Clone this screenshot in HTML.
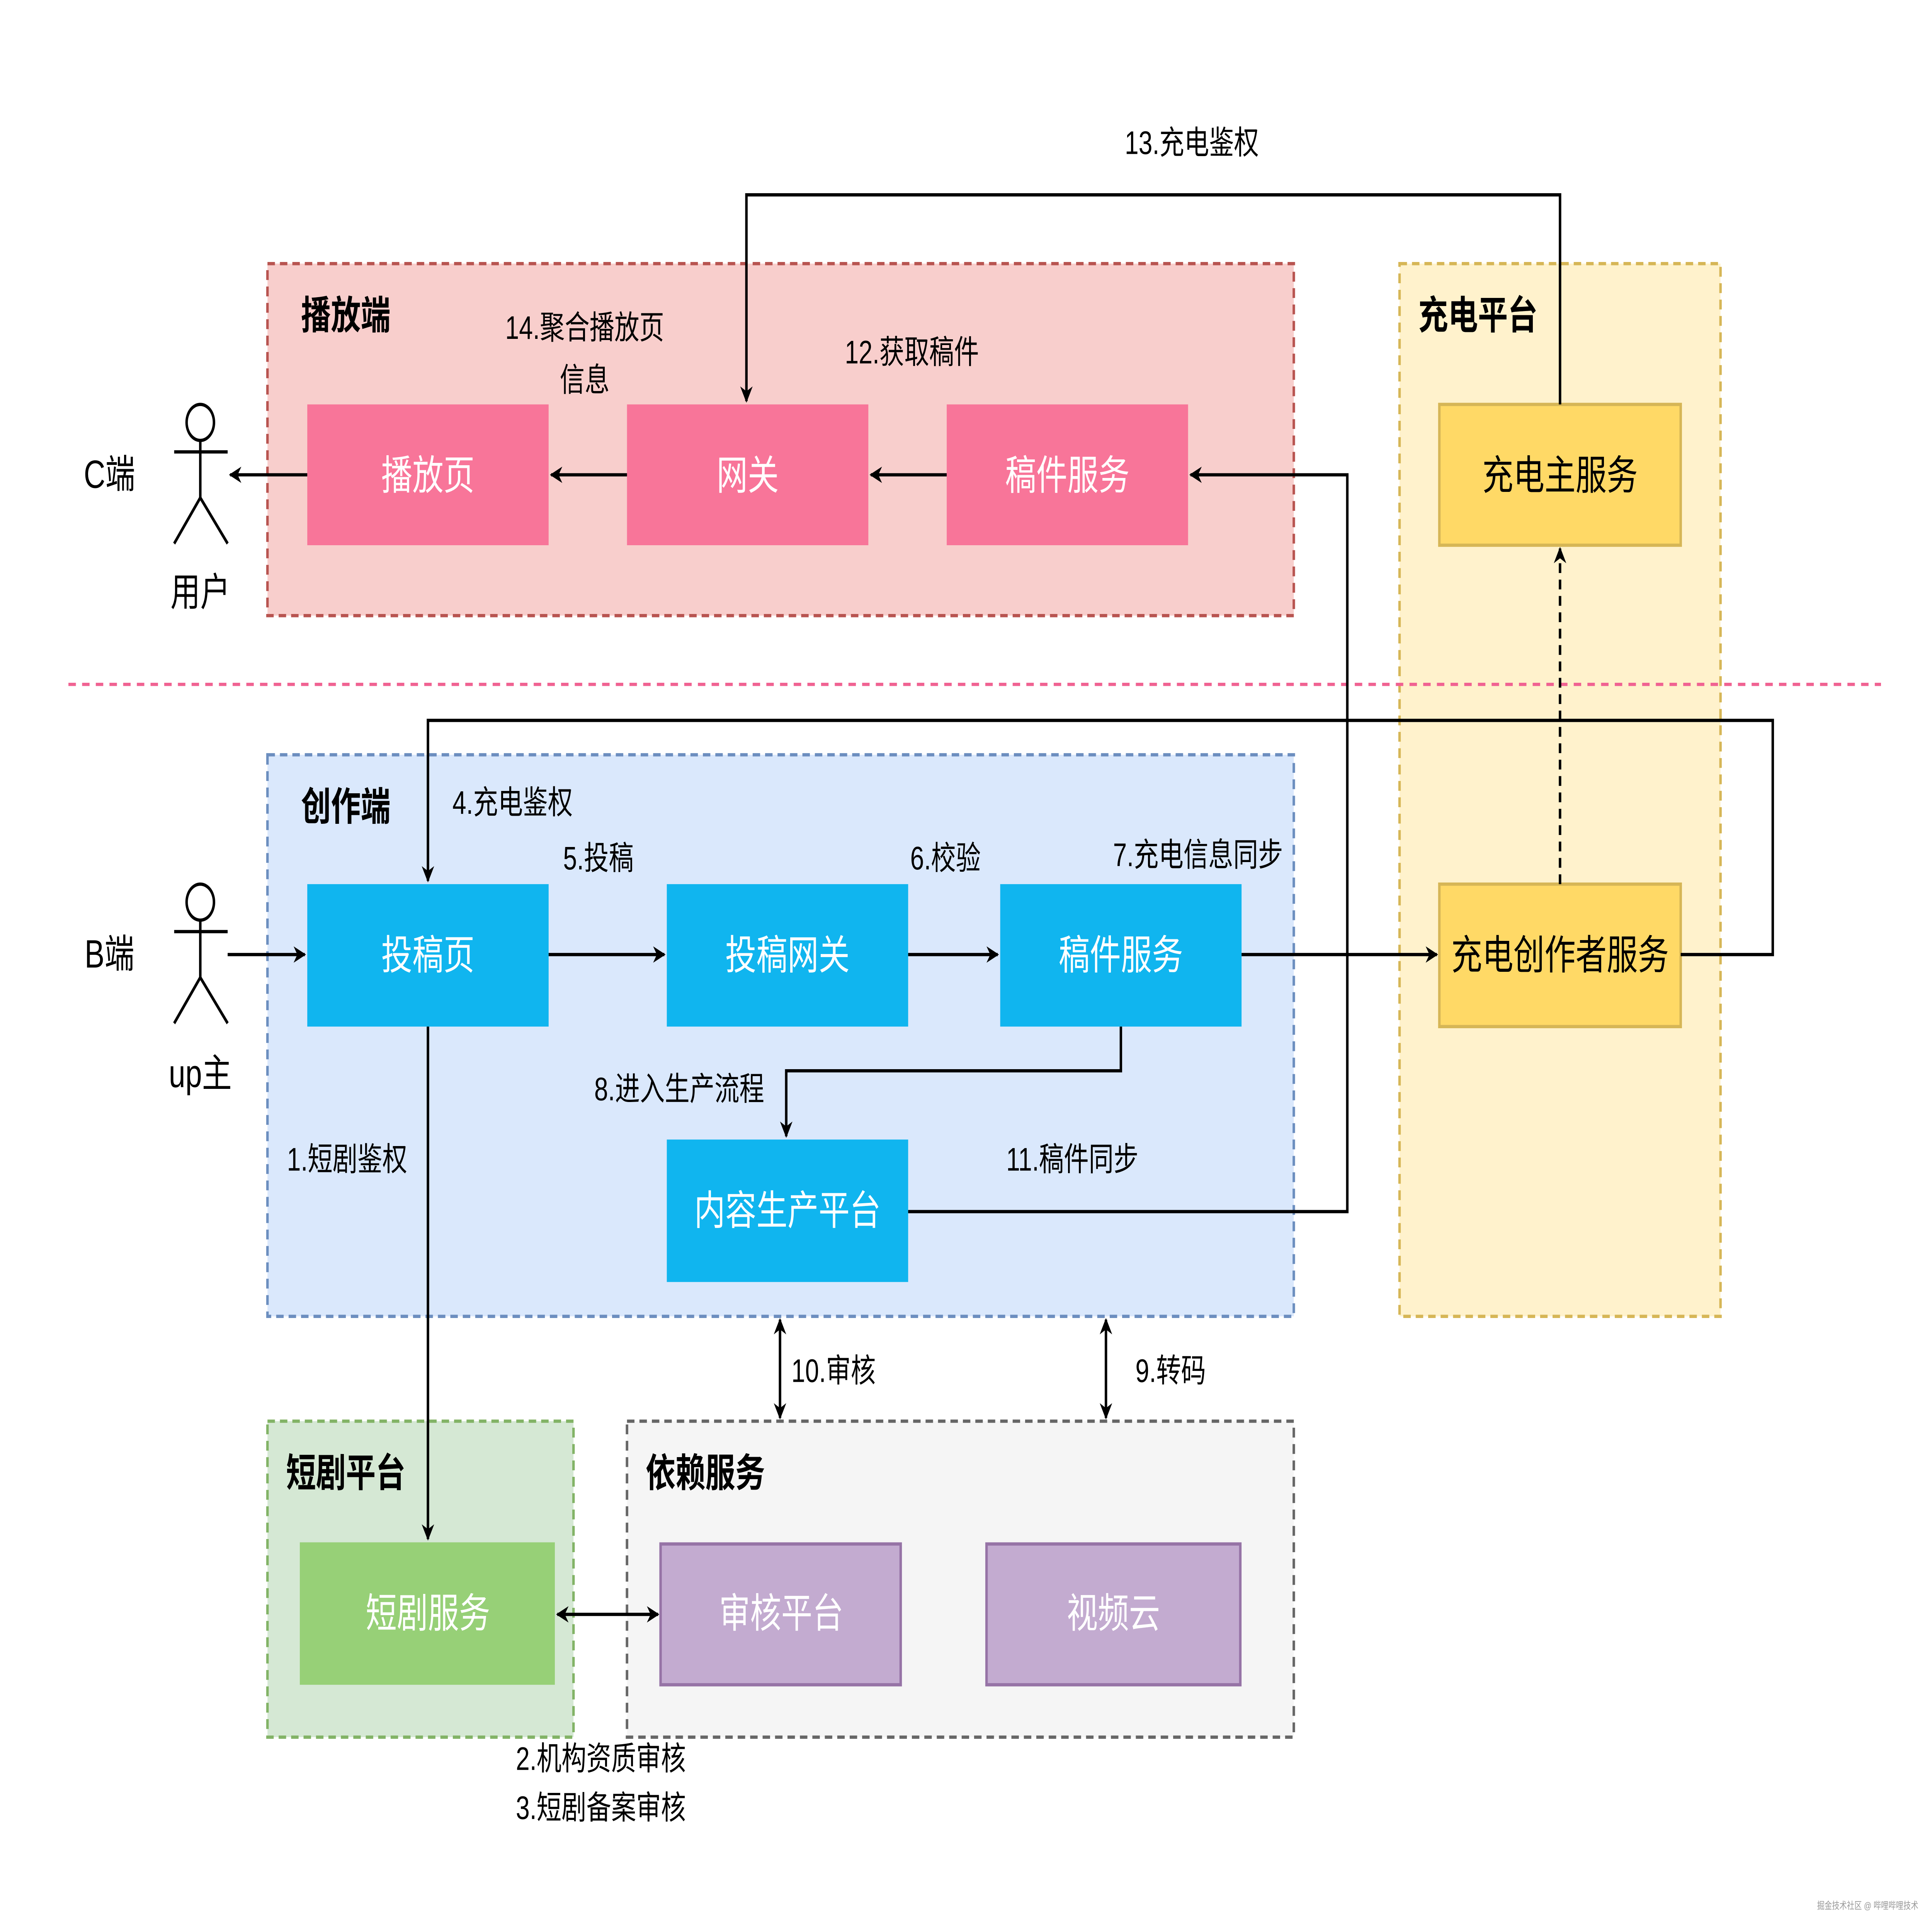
<!DOCTYPE html>
<html><head><meta charset="utf-8"><style>
html,body{margin:0;padding:0;background:#fff;overflow:hidden;width:100vw;height:100vh;}
svg{display:block;width:100vw;height:100vh;}
text{font-family:"Liberation Sans","Noto Sans CJK SC",sans-serif;}
</style></head><body>
<svg viewBox="0 0 1553 1180" preserveAspectRatio="none" xmlns="http://www.w3.org/2000/svg">
<defs>
<marker id="a" markerWidth="10" markerHeight="10" refX="9" refY="5" orient="auto-start-reverse" markerUnits="userSpaceOnUse"><path d="M0,0 L10,5 L0,10 L3,5 Z" fill="#000"/></marker>
</defs>
<rect width="1553" height="1180" fill="#fff"/>
<rect x="215" y="161" width="825" height="215" fill="#f8cecc" stroke="#b85450" stroke-width="2" stroke-dasharray="6,4"/>
<rect x="1125" y="161" width="258" height="643" fill="#fff2cc" stroke="#d6b656" stroke-width="2" stroke-dasharray="6,4"/>
<rect x="215" y="461" width="825" height="343" fill="#dae8fc" stroke="#6c8ebf" stroke-width="2" stroke-dasharray="6,4"/>
<rect x="215" y="868" width="246" height="193" fill="#d5e8d4" stroke="#82b366" stroke-width="2" stroke-dasharray="6,4"/>
<rect x="504" y="868" width="536" height="193" fill="#f5f5f5" stroke="#666" stroke-width="2" stroke-dasharray="6,4"/>
<line x1="55" y1="418" x2="1512" y2="418" stroke="#f06292" stroke-width="2" stroke-dasharray="6,5"/>
<g font-size="24" font-weight="bold" fill="#000" text-anchor="middle">
<text x="278" y="201">播放端</text><text x="1188" y="201">充电平台</text>
<text x="278" y="501">创作端</text><text x="278" y="908">短剧平台</text><text x="567" y="908">依赖服务</text>
</g>
<g font-size="25" text-anchor="middle">
<rect x="247" y="247" width="194" height="86" fill="#f87599"/><text x="344" y="299" fill="#fff">播放页</text>
<rect x="504" y="247" width="194" height="86" fill="#f87599"/><text x="601" y="299" fill="#fff">网关</text>
<rect x="761" y="247" width="194" height="86" fill="#f87599"/><text x="858" y="299" fill="#fff">稿件服务</text>
<rect x="1157" y="247" width="194" height="86" fill="#ffd966" stroke="#d6b656" stroke-width="2"/><text x="1254" y="299" fill="#000">充电主服务</text>
<rect x="1157" y="540" width="194" height="87" fill="#ffd966" stroke="#d6b656" stroke-width="2"/><text x="1254" y="592" fill="#000">充电创作者服务</text>
<rect x="247" y="540" width="194" height="87" fill="#10b5ef"/><text x="344" y="592" fill="#fff">投稿页</text>
<rect x="536" y="540" width="194" height="87" fill="#10b5ef"/><text x="633" y="592" fill="#fff">投稿网关</text>
<rect x="804" y="540" width="194" height="87" fill="#10b5ef"/><text x="901" y="592" fill="#fff">稿件服务</text>
<rect x="536" y="696" width="194" height="87" fill="#10b5ef"/><text x="633" y="748" fill="#fff">内容生产平台</text>
<rect x="241" y="942" width="205" height="87" fill="#97d077"/><text x="344" y="994" fill="#fff">短剧服务</text>
<rect x="531" y="943" width="193" height="86" fill="#c3abd0" stroke="#9673a6" stroke-width="2"/><text x="628" y="994" fill="#fff">审核平台</text>
<rect x="793" y="943" width="204" height="86" fill="#c3abd0" stroke="#9673a6" stroke-width="2"/><text x="895" y="994" fill="#fff">视频云</text>
</g>
<g stroke="#000" stroke-width="2" fill="#fff">
<circle cx="161" cy="258" r="11"/><line x1="161" y1="269" x2="161" y2="304"/><line x1="140" y1="276" x2="183" y2="276"/><polyline points="140,332 161,304 183,332" fill="none"/>
<circle cx="161" cy="551" r="11"/><line x1="161" y1="562" x2="161" y2="597"/><line x1="140" y1="569" x2="183" y2="569"/><polyline points="140,625 161,597 183,625" fill="none"/>
</g>
<g stroke="#000" stroke-width="2" fill="none" marker-end="url(#a)">
<line x1="247" y1="290" x2="185" y2="290"/>
<line x1="504" y1="290" x2="443" y2="290"/>
<line x1="761" y1="290" x2="700" y2="290"/>
<polyline points="1254,247 1254,119 600,119 600,245"/>
<line x1="1254" y1="540" x2="1254" y2="335" stroke-dasharray="6,4"/>
<polyline points="1351,583 1425,583 1425,440 344,440 344,538"/>
<line x1="183" y1="583" x2="245" y2="583"/>
<line x1="441" y1="583" x2="534" y2="583"/>
<line x1="730" y1="583" x2="802" y2="583"/>
<line x1="998" y1="583" x2="1155" y2="583"/>
<polyline points="901,627 901,654 632,654 632,694"/>
<polyline points="730,740 1083,740 1083,290 957,290"/>
<line x1="344" y1="627" x2="344" y2="940"/>
<line x1="448" y1="986" x2="529" y2="986" marker-start="url(#a)"/>
<line x1="627" y1="806" x2="627" y2="866" marker-start="url(#a)"/>
<line x1="889" y1="806" x2="889" y2="866" marker-start="url(#a)"/>
</g>
<g font-size="20" fill="#000" text-anchor="middle">
<text x="958" y="94">13.充电鉴权</text>
<text x="470" y="207">14.聚合播放页</text><text x="470" y="239">信息</text>
<text x="733" y="222">12.获取稿件</text>
<text x="88" y="298" font-size="24">C端</text><text x="161" y="370" font-size="24">用户</text>
<text x="88" y="591" font-size="24">B端</text><text x="161" y="664" font-size="24">up主</text>
<text x="412" y="497">4.充电鉴权</text>
<text x="481" y="531">5.投稿</text>
<text x="760" y="531">6.校验</text>
<text x="963" y="529">7.充电信息同步</text>
<text x="546" y="672">8.进入生产流程</text>
<text x="862" y="715">11.稿件同步</text>
<text x="279" y="715">1.短剧鉴权</text>
<text x="670" y="844">10.审核</text>
<text x="941" y="844">9.转码</text>
<text x="483" y="1081">2.机构资质审核</text>
<text x="483" y="1111">3.短剧备案审核</text>
</g>
<text x="1542" y="1166" font-size="6" fill="#999" text-anchor="end">掘金技术社区 @ 哔哩哔哩技术</text>
</svg>
</body></html>
